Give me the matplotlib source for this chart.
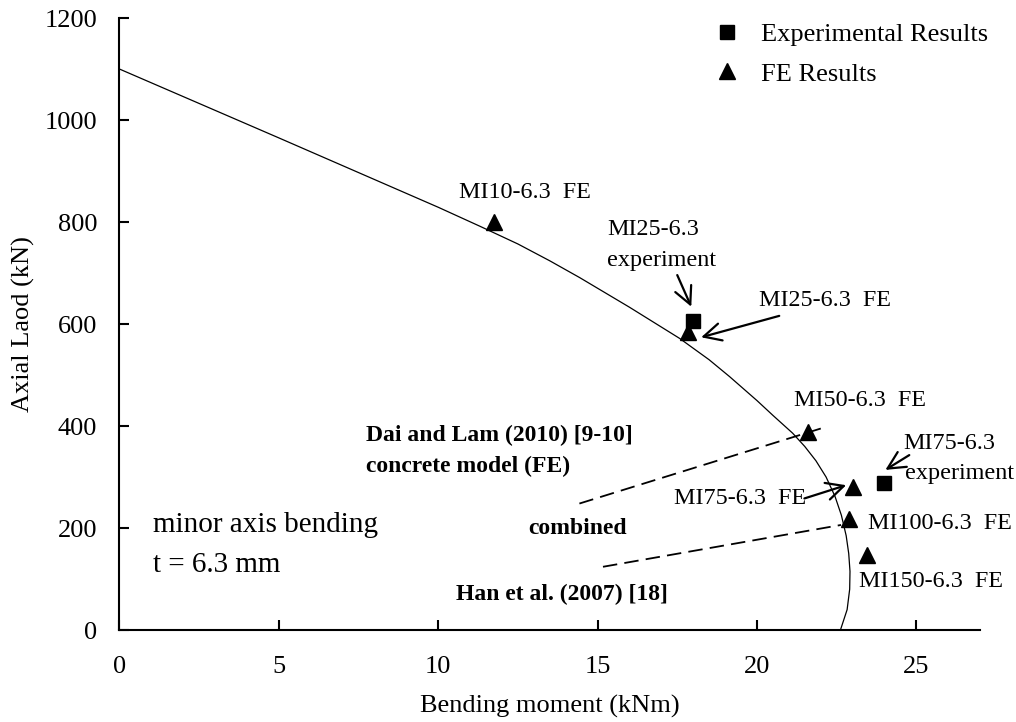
import numpy as np
import matplotlib.pyplot as plt

plt.rcParams['font.family'] = ['Liberation Serif', 'DejaVu Serif']

# interaction curve (kNm, kN)
curve_m = [0, 5, 10, 11.3, 12.5, 13.5, 14.44, 16, 17.57, 18.5, 19.14,
           20.0, 20.5, 21.12, 21.5, 21.85, 22.17, 22.45, 22.65, 22.8,
           22.88, 22.92, 22.91, 22.83, 22.62]
curve_n = [1100, 965, 829, 792, 757, 724, 691, 633, 572, 530, 497,
           450, 421, 386, 360, 332, 300, 262, 225, 185,
           150, 115, 80, 40, 0]

# experimental results
exp_m = [18.0, 24.0]
exp_n = [605, 288]

# FE results
fe_names = ['MI10', 'MI25', 'MI50', 'MI75', 'MI100', 'MI150']
fe_m = [11.75, 17.85, 21.6, 23.0, 22.9, 23.45]
fe_n = [800, 585, 388, 280, 218, 148]

# dashed pointer lines (start, end)
dai_line = [(14.43, 248), (22.1, 397)]
han_line = [(15.17, 124), (22.64, 206)]

fig = plt.figure(figsize=(10.16, 7.22), dpi=100)
ax = fig.add_axes([0.1176, 0.1274, 0.8470, 0.8476])

ax.plot(curve_m, curve_n, color='black', lw=0.9)
ax.plot(exp_m, exp_n, 's', color='black', ms=10.5, ls='none',
        label='Experimental Results')
ax.plot(fe_m, fe_n, '^', color='black', ms=12, ls='none',
        label='FE Results')

for ln in (dai_line, han_line):
    ax.plot([ln[0][0], ln[1][0]], [ln[0][1], ln[1][1]], color='black',
            lw=1.3, dashes=(8, 4))

arrow = dict(arrowstyle='->,head_length=0.5,head_width=0.25', lw=1.6,
             color='black', mutation_scale=25, shrinkA=0, shrinkB=0)
ax.annotate('', xy=(17.94, 634), xytext=(17.5, 696), arrowprops=arrow)
ax.annotate('', xy=(18.25, 574), xytext=(20.7, 616), arrowprops=arrow)
ax.annotate('', xy=(22.8, 284), xytext=(21.49, 258), arrowprops=arrow)
ax.annotate('', xy=(24.03, 314), xytext=(24.78, 343), arrowprops=arrow)

fs = 17.4
lab = dict(fontsize=fs, va='center', ha='left')
ax.text(10.65, 857, 'MI10-6.3  FE', **lab)
ax.text(15.3, 786, 'MI25-6.3', **lab)
ax.text(15.3, 725, 'experiment', **lab)
ax.text(20.06, 647, 'MI25-6.3  FE', **lab)
ax.text(21.17, 451, 'MI50-6.3  FE', **lab)
ax.text(24.6, 366, 'MI75-6.3', **lab)
ax.text(24.66, 307, 'experiment', **lab)
ax.text(17.41, 258, 'MI75-6.3  FE', **lab)
ax.text(23.5, 209, 'MI100-6.3  FE', **lab)
ax.text(23.19, 95, 'MI150-6.3  FE', **lab)

bold = dict(fontsize=17, va='center', ha='left', fontweight='bold')
ax.text(7.75, 382, 'Dai and Lam (2010) [9-10]', **bold)
ax.text(7.75, 320, 'concrete model (FE)', **bold)
ax.text(12.84, 199, 'combined', **bold)
ax.text(10.55, 69, 'Han et al. (2007) [18]', **bold)

ax.text(1.06, 206, 'minor axis bending', fontsize=21, va='center')
ax.text(1.06, 127, 't = 6.3 mm', fontsize=21, va='center')

ax.set_xlim(0, 27)
ax.set_ylim(0, 1200)
ax.set_xticks([0, 5, 10, 15, 20, 25])
ax.set_yticks(np.arange(0, 1201, 200))
ax.spines['top'].set_visible(False)
ax.spines['right'].set_visible(False)
ax.spines['left'].set_linewidth(1.5)
ax.spines['bottom'].set_linewidth(1.5)
ax.tick_params(axis='both', direction='in', length=7, width=1.5,
               labelsize=19)
ax.tick_params(axis='x', pad=19)
ax.tick_params(axis='y', pad=16)

ax.set_xlabel('Bending moment (kNm)', fontsize=19, labelpad=12)
ax.set_ylabel('Axial Laod (kN)', fontsize=19, labelpad=7)

ax.legend(loc='upper left', bbox_to_anchor=(0.692, 0.992), frameon=False,
          fontsize=19, handlelength=0.9, handletextpad=0.85,
          borderpad=0, borderaxespad=0, labelspacing=0.6, numpoints=1)

plt.savefig('out.png', dpi=100)
plt.close(fig)
